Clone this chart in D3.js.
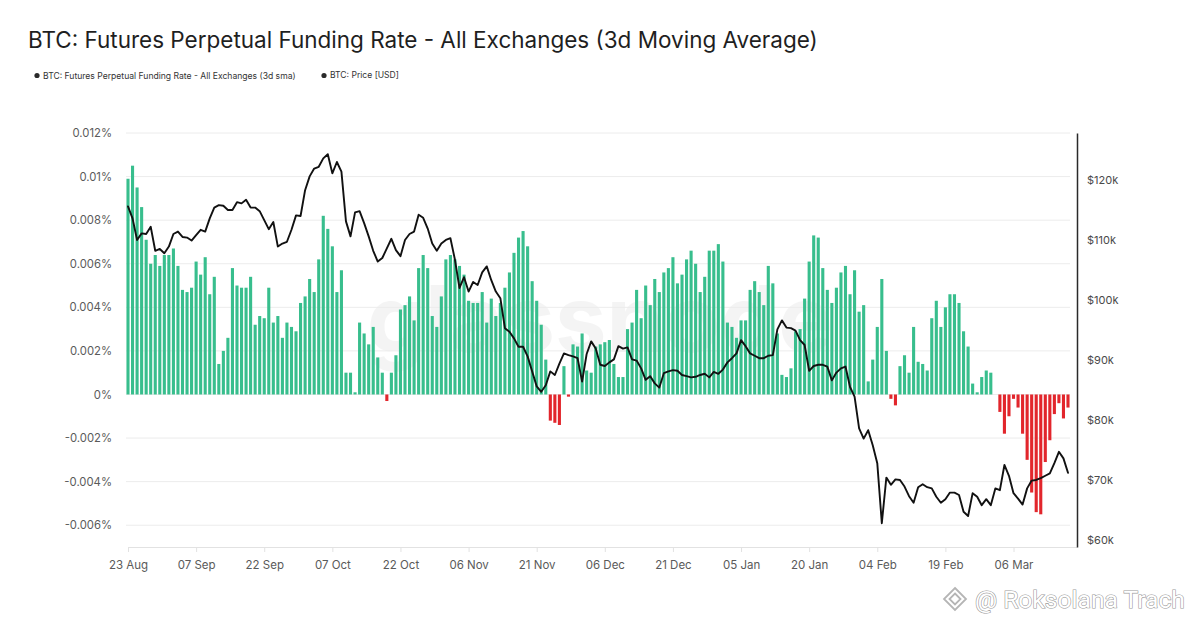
<!DOCTYPE html>
<html><head><meta charset="utf-8">
<script src="https://cdn.jsdelivr.net/npm/d3@7"></script>
<style>
html,body{margin:0;padding:0;background:#fff;}
svg{display:block;font-family:Inter,"Open Sans",sans-serif;}
</style></head><body>
<svg id="chart" width="1199" height="623"></svg>
<script>
const titleText = "BTC: Futures Perpetual Funding Rate - All Exchanges (3d Moving Average)";
const legendLabels = ["BTC: Futures Perpetual Funding Rate - All Exchanges (3d sma)", "BTC: Price [USD]"];
const startDate = "2025-08-23";
// daily funding rate (%), 3d sma
const funding = [
0.0099,0.0105,0.0095,0.0086,0.0071,0.0060,0.0064,0.0059,0.0064,0.0064,
0.0067,0.0059,0.0048,0.0047,0.0049,0.0061,0.0055,0.0063,0.0046,0.0054,
0.0014,0.0020,0.0026,0.0058,0.0050,0.0049,0.0049,0.0054,0.0032,0.0036,
0.0035,0.0049,0.0033,0.0036,0.0026,0.0033,0.0031,0.0029,0.0042,0.0045,
0.0053,0.0047,0.0062,0.0082,0.0076,0.0068,0.0047,0.0057,0.0010,0.0010,
0.0001,0.0033,0.0028,0.0023,0.0031,0.0017,0.0010,-0.0003,0.0010,0.0018,
0.0039,0.0041,0.0045,0.0034,0.0058,0.0064,0.0058,0.0036,0.0031,0.0045,
0.0062,0.0064,0.0062,0.0059,0.0055,0.0043,0.0042,0.0042,0.0047,0.0033,
0.0044,0.0036,0.0042,0.0049,0.0056,0.0065,0.0072,0.0075,0.0068,0.0052,
0.0043,0.0032,0.0016,-0.0012,-0.0013,-0.0014,0.0013,-0.0001,0.0023,0.0022,
0.0028,0.0011,0.0010,0.0022,0.0023,0.0024,0.0025,0.0014,0.0008,0.0008,
0.0030,0.0033,0.0048,0.0035,0.0050,0.0041,0.0053,0.0047,0.0056,0.0058,
0.0063,0.0051,0.0055,0.0062,0.0066,0.0060,0.0047,0.0054,0.0066,0.0066,
0.0069,0.0061,0.0033,0.0031,0.0026,0.0034,0.0034,0.0048,0.0052,0.0047,
0.0041,0.0059,0.0051,0.0028,0.0009,0.0008,0.0012,0.0029,0.0030,0.0044,
0.0061,0.0073,0.0072,0.0058,0.0048,0.0042,0.0049,0.0056,0.0059,0.0046,
0.0057,0.0038,0.0041,0.0006,0.0016,0.0031,0.0053,0.0020,-0.0002,-0.0005,
0.0013,0.0018,0.0010,0.0031,0.0015,0.0014,0.0011,0.0035,0.0043,0.0031,
0.0040,0.0046,0.0046,0.0042,0.0029,0.0022,0.0005,0.0001,0.0008,0.0011,
0.0010,0.0000,-0.0008,-0.0018,-0.0010,-0.0002,-0.0006,-0.0018,-0.0030,-0.0045,
-0.0054,-0.0055,-0.0031,-0.0021,-0.0009,-0.0004,-0.0011,-0.0006
];
// daily BTC price, thousands of USD
const price = [
115.6,113.6,110.0,111.1,111.0,112.2,108.2,108.5,107.8,108.9,
111.0,111.4,110.5,110.4,109.9,110.8,111.7,111.4,113.6,115.4,
115.8,115.7,115.0,115.0,116.3,116.1,116.7,115.4,115.4,114.8,
113.3,111.8,113.0,108.9,109.4,109.7,111.7,114.1,114.0,118.3,
120.6,121.9,122.2,123.6,124.3,121.1,123.0,121.4,113.1,110.6,
114.6,114.8,112.8,110.6,108.2,106.4,107.0,108.6,110.2,108.3,
107.3,110.0,111.0,111.4,114.2,113.7,111.9,109.4,108.2,109.4,
110.0,110.3,106.7,102.0,103.8,101.4,103.0,102.5,104.6,105.6,
103.3,101.4,100.3,95.3,94.7,93.6,92.2,92.2,90.6,88.1,
85.6,84.7,85.8,88.1,87.5,89.4,91.1,90.8,90.6,90.3,
86.4,91.0,93.1,91.9,89.2,89.0,89.6,90.1,92.3,91.9,
92.1,90.1,89.9,88.6,86.7,87.3,86.1,85.4,87.8,88.1,
88.3,88.2,87.5,87.3,87.1,87.2,87.5,87.7,87.1,88.0,
87.7,88.4,89.6,90.3,91.1,93.3,92.3,91.1,90.7,90.3,
90.3,90.7,90.8,95.1,96.6,95.4,95.3,94.9,93.3,92.5,
88.2,89.0,89.2,89.2,88.9,86.6,87.9,88.6,88.9,85.5,
83.9,78.6,76.9,78.3,75.8,72.8,62.8,70.4,69.2,70.1,
70.0,68.9,67.3,66.2,68.8,69.3,68.8,68.6,67.2,66.2,
66.8,67.9,67.9,67.5,64.7,64.0,67.8,67.2,65.8,66.8,
65.8,68.6,68.3,72.5,70.7,67.8,66.9,65.9,68.6,69.9,
70.0,70.3,70.7,71.1,72.8,74.7,73.6,71.2
];
const xTickDates = ["2025-08-23","2025-09-07","2025-09-22","2025-10-07","2025-10-22","2025-11-06","2025-11-21","2025-12-06","2025-12-21","2026-01-05","2026-01-20","2026-02-04","2026-02-19","2026-03-06"];
const leftTicks = [-0.006,-0.004,-0.002,0,0.002,0.004,0.006,0.008,0.01,0.012];
const rightTicks = [60,70,80,90,100,110,120];

const svg = d3.select("#chart");
const parse = d3.timeParse("%Y-%m-%d");
const t0 = parse(startDate);
const dates = funding.map((_, i) => d3.timeDay.offset(t0, i));

const plot = {left:128, right:1077, top:133, bottom:547};
const x = d3.scaleTime().domain([t0, dates[dates.length-1]]).range([plot.left, 1068]);
const yL = d3.scaleLinear().domain([-0.007, 0.012]).range([plot.bottom, plot.top]);
const yR = d3.scaleLinear().domain([58.83, 127.83]).range([plot.bottom, plot.top]);

// title
const title = svg.append("text").attr("x", 28).attr("y", 48)
  .attr("fill", "#1f1f1f").attr("font-size", 23).text(titleText);
const tw = title.node().getComputedTextLength();
title.attr("font-size", 23 * 790 / tw);

// legend
const lg = svg.append("g").attr("font-size", 9.6).attr("fill", "#333");
const legX = [37, 324];
legendLabels.forEach((t, i) => {
  lg.append("circle").attr("cx", legX[i]).attr("cy", 75.5).attr("r", 2.6).attr("fill", "#2a2a2a");
  const tt = lg.append("text").attr("x", legX[i] + 6).attr("y", 75.5).attr("dy", "0.35em").text(t);
  const target = i === 0 ? 253 : 69;
  const w = tt.node().getComputedTextLength();
  tt.attr("font-size", 9.6 * target / w);
});

// watermark
svg.append("text").attr("x", 600).attr("y", 352).attr("text-anchor", "middle")
  .attr("font-size", 92).attr("font-weight", 700).attr("fill", "#000").attr("opacity", 0.04)
  .text("glassnode");

// grid
svg.append("g").selectAll("line").data(leftTicks).join("line")
  .attr("x1", plot.left - 2).attr("x2", 1070)
  .attr("y1", d => yL(d)).attr("y2", d => yL(d))
  .attr("stroke", "#ececec").attr("stroke-width", 1);

// bottom axis
const fmtX = d3.timeFormat("%d %b");
const xAxis = svg.append("g").attr("transform", `translate(0,${plot.bottom})`)
  .call(d3.axisBottom(x).tickValues(xTickDates.map(parse)).tickFormat(fmtX).tickSize(5).tickSizeOuter(0).tickPadding(9));
xAxis.select(".domain").attr("stroke", "#e2e2e2").attr("d", `M${plot.left},0.5H${plot.right}`);
xAxis.selectAll(".tick line").attr("stroke", "#e2e2e2");
xAxis.selectAll("text").attr("fill", "#5a5a5a").attr("font-size", 11.5).attr("font-family", "Inter, sans-serif");

// left axis
const fmtL = v => (v === 0 ? "0" : String(+v.toFixed(3))) + "%";
const yAxisL = svg.append("g").attr("transform", `translate(${plot.left},0)`)
  .call(d3.axisLeft(yL).tickValues(leftTicks).tickFormat(fmtL).tickSize(0).tickPadding(16));
yAxisL.select(".domain").remove();
yAxisL.selectAll("text").attr("fill", "#5a5a5a").attr("font-size", 11.3).attr("font-family", "Inter, sans-serif");

// bars
const bw = 3.1;
svg.append("g").selectAll("rect").data(funding).join("rect")
  .attr("x", (d, i) => x(dates[i]) - bw / 2)
  .attr("width", bw)
  .attr("y", d => Math.min(yL(d), yL(0)))
  .attr("height", d => Math.abs(yL(d) - yL(0)))
  .attr("fill", d => d >= 0 ? "#38be8d" : "#e2262c");

// price line
const line = d3.line().x((d, i) => x(dates[i])).y(d => yR(d)).curve(d3.curveLinear);
svg.append("path").datum(price).attr("d", line)
  .attr("fill", "none").attr("stroke", "#111").attr("stroke-width", 1.9)
  .attr("stroke-linejoin", "round").attr("stroke-linecap", "round");

// right axis
const yAxisR = svg.append("g").attr("transform", `translate(${plot.right},0)`)
  .call(d3.axisRight(yR).tickValues(rightTicks).tickFormat(v => "$" + v + "k").tickSize(0).tickSizeOuter(0).tickPadding(10));
yAxisR.select(".domain").attr("stroke", "#2a2a2a").attr("stroke-width", 1.5);
yAxisR.selectAll("text").attr("fill", "#4a4a4a").attr("font-size", 11).attr("font-family", "Inter, sans-serif");

// author watermark
const wm = svg.append("g").attr("transform", "translate(944,599)");
wm.append("path").attr("d", "M11,-11 L22,0 L11,11 L0,0 Z M11,-5.5 L16.5,0 L11,5.5 L5.5,0 Z")
  .attr("fill", "none").attr("stroke", "#b5b5b5").attr("stroke-width", 1.8);
const wt = wm.append("text").attr("x", 31).attr("y", 0).attr("dy", "0.35em")
  .attr("font-size", 22).attr("fill", "#fff").attr("stroke", "#999").attr("stroke-width", 1.2)
  .attr("paint-order", "stroke").attr("font-family", "Roboto, sans-serif")
  .text("@ Roksolana Trach");
const ww = wt.node().getComputedTextLength();
wt.attr("font-size", 22 * 210 / ww);
</script>
</body></html>
